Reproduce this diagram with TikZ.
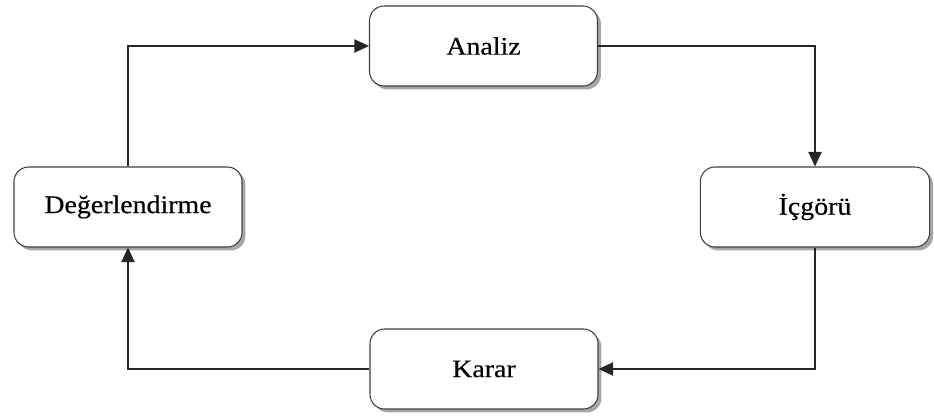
\documentclass[tikz,border=0pt]{standalone}
\usepackage{fontspec}
\setmainfont{Liberation Serif}[FakeStretch=1.1, FakeBold=0.4]
\usetikzlibrary{shadows,arrows.meta}
\begin{document}
\begin{tikzpicture}[x=0.75pt,y=-0.75pt,
  stagebox/.style={draw=black!75, line width=0.8pt, rounded corners=11pt, fill=white,
    minimum width=171pt, minimum height=60pt, inner sep=0pt,
    font=\fontsize{19}{23}\selectfont,
    drop shadow={shadow xshift=2.6pt, shadow yshift=-2.6pt, fill=black!35, opacity=1}},
  flow/.style={draw=black!85, line width=1.1pt, -{Triangle[length=11pt,width=10pt]}}]
  \useasboundingbox (0,0) rectangle (934,416);
  \node[stagebox] (analiz) at (483.5,46) {Analiz};
  \node[stagebox, minimum width=172pt] (icgoru) at (815,207) {İçgörü};
  \node[stagebox] (karar) at (484,369) {Karar};
  \node[stagebox] (deger) at (128,207) {Değerlendirme};
  \draw[flow] (deger.north) |- (analiz.west);
  \draw[flow] (analiz.east) -| (icgoru.north);
  \draw[flow] (icgoru.south) |- (karar.east);
  \draw[flow] (karar.west) -| (deger.south);
\end{tikzpicture}
\end{document}
